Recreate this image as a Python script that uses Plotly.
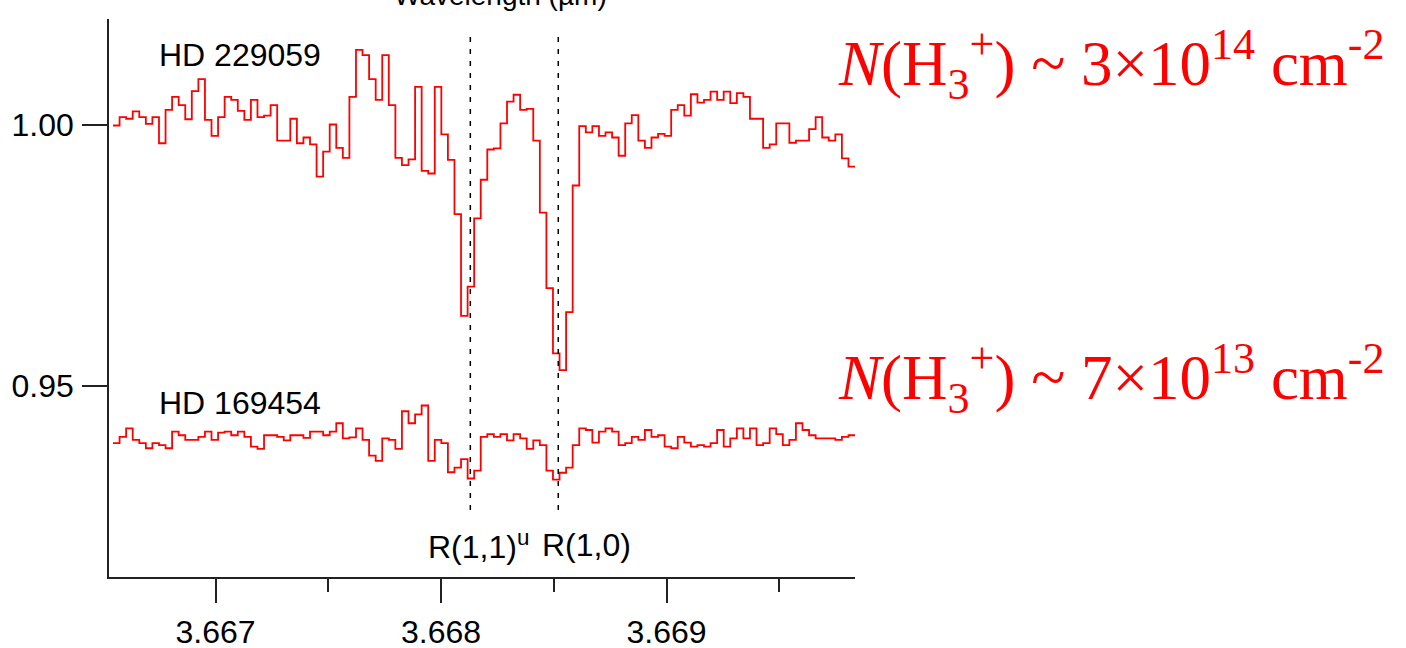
import plotly.graph_objects as go

# ---------------- data ----------------
wl_start = 3.6665455      # left edge of first pixel (micron)
wl_step = 0.00002912      # pixel width (micron)

hd229059 = [
    0.9999, 1.0015, 1.0012, 1.0026, 1.0015, 1.0002, 1.0015, 0.9965, 1.0029, 1.0054,
    1.0038, 1.0011, 1.0065, 1.0088, 1.0010, 0.9979, 1.0015, 1.0054, 1.0048, 1.0027,
    1.0010, 1.0048, 1.0015, 1.0018, 1.0038, 0.9970, 0.9970, 1.0012, 0.9965, 0.9976,
    0.9963, 0.9901, 0.9949, 1.0001, 0.9956, 0.9937, 1.0054, 1.0144, 1.0134, 1.0088,
    1.0048, 1.0134, 1.0038, 0.9937, 0.9923, 0.9934, 1.0073, 0.9912, 0.9907, 1.0073,
    0.9982, 0.9933, 0.9829, 0.9634, 0.9690, 0.9821, 0.9895, 0.9953, 0.9955, 1.0003,
    1.0045, 1.0058, 1.0029, 1.0031, 0.9970, 0.9832, 0.9687, 0.9562, 0.9530, 0.9641,
    0.9884, 0.9998, 0.9986, 0.9998, 0.9979, 0.9986, 0.9976, 0.9941, 1.0003, 1.0019,
    0.9970, 0.9956, 0.9976, 0.9983, 0.9979, 1.0029, 1.0038, 1.0018, 1.0059, 1.0043,
    1.0048, 1.0064, 1.0048, 1.0064, 1.0042, 1.0061, 1.0054, 1.0012, 1.0012, 0.9956,
    0.9963, 1.0003, 1.0003, 0.9966, 0.9970, 0.9970, 0.9992, 1.0015, 0.9976, 0.9970,
    0.9982, 0.9936, 0.9920,
]

hd169454 = [
    0.9390, 0.9402, 0.9418, 0.9396, 0.9390, 0.9380, 0.9390, 0.9386, 0.9380, 0.9412,
    0.9405, 0.9396, 0.9396, 0.9402, 0.9412, 0.9396, 0.9410, 0.9412, 0.9405, 0.9412,
    0.9402, 0.9383, 0.9379, 0.9405, 0.9405, 0.9402, 0.9395, 0.9405, 0.9405, 0.9400,
    0.9412, 0.9412, 0.9405, 0.9412, 0.9428, 0.9399, 0.9401, 0.9418, 0.9396, 0.9366,
    0.9356, 0.9399, 0.9396, 0.9379, 0.9451, 0.9428, 0.9445, 0.9462, 0.9356, 0.9396,
    0.9390, 0.9334, 0.9343, 0.9359, 0.9322, 0.9337, 0.9402, 0.9407, 0.9402, 0.9407,
    0.9395, 0.9407, 0.9399, 0.9379, 0.9395, 0.9386, 0.9337, 0.9320, 0.9333, 0.9343,
    0.9386, 0.9418, 0.9415, 0.9391, 0.9412, 0.9418, 0.9412, 0.9386, 0.9390, 0.9402,
    0.9396, 0.9415, 0.9402, 0.9405, 0.9383, 0.9380, 0.9402, 0.9391, 0.9383, 0.9386,
    0.9383, 0.9390, 0.9415, 0.9383, 0.9399, 0.9418, 0.9399, 0.9418, 0.9386, 0.9390,
    0.9418, 0.9407, 0.9386, 0.9396, 0.9428, 0.9415, 0.9405, 0.9399, 0.9399, 0.9399,
    0.9396, 0.9402, 0.9405,
]

line_positions = [3.66813, 3.66852]          # R(1,1)u, R(1,0)
x_tickvals = [3.667, 3.668, 3.669]
x_ticktext = ["3.667", "3.668", "3.669"]
y_tickvals = [0.95, 1.00]
y_ticktext = ["0.95", "1.00"]
star_labels = ["HD 229059", "HD 169454"]
col_dens = ["<i>N</i>(H<sub>3</sub><sup>+</sup>) ~ 3×10<sup>14</sup> cm<sup>-2</sup>",
            "<i>N</i>(H<sub>3</sub><sup>+</sup>) ~ 7×10<sup>13</sup> cm<sup>-2</sup>"]

# ---------------- figure ----------------
def edges(n):
    return [wl_start + i * wl_step for i in range(n + 1)]

fig = go.Figure()
for flux in (hd229059, hd169454):
    xs = edges(len(flux))
    ys = list(flux) + [flux[-1]]
    fig.add_trace(go.Scatter(x=xs, y=ys, mode="lines", line_shape="hv",
                             line=dict(color="#ff0000", width=1.8),
                             showlegend=False, hoverinfo="skip"))

for xl in line_positions:
    fig.add_shape(type="line", xref="x", yref="y", x0=xl, x1=xl, y0=0.92616, y1=1.01764,
                  line=dict(color="black", width=1.5, dash="5px,7px"))

FONT = "Liberation Sans, Arial, sans-serif"
SERIF = "Liberation Serif, Times New Roman, serif"

L, R, T, B = 109, 551, 19, 71
PW, PH = 1406 - L - R, 648 - T - B

def px(xp):
    return (xp - L) / PW

def py(yp):
    return (648 - B - yp) / PH

ann = []
ann.append(dict(text=star_labels[0], x=px(157), y=py(55.5), xanchor="left", yanchor="middle"))
ann.append(dict(text=star_labels[1], x=px(157), y=py(403), xanchor="left", yanchor="middle"))
ann.append(dict(text="R(1,1)<sup>u</sup>", x=px(426), y=py(545), xanchor="left", yanchor="middle"))
ann.append(dict(text="R(1,0)", x=px(540), y=py(545), xanchor="left", yanchor="middle"))
for a in ann:
    a.update(xref="paper", yref="paper", showarrow=False,
             font=dict(family=FONT, size=32, color="black"))
ann.append(dict(text="Wavelength (µm)", x=px(500), y=py(13), xref="paper", yref="paper",
                xanchor="center", yanchor="bottom", showarrow=False,
                font=dict(family=FONT, size=28, color="black")))
ann.append(dict(text=col_dens[0], x=px(836), y=py(64), xref="paper", yref="paper",
                xanchor="left", yanchor="middle", showarrow=False,
                font=dict(family=SERIF, size=63, color="#ff0000")))
ann.append(dict(text=col_dens[1], x=px(836), y=py(378), xref="paper", yref="paper",
                xanchor="left", yanchor="middle", showarrow=False,
                font=dict(family=SERIF, size=63, color="#ff0000")))

fig.update_layout(
    width=1406, height=648,
    margin=dict(l=L, r=R, t=T, b=B, pad=0, autoexpand=False),
    paper_bgcolor="white", plot_bgcolor="white",
    annotations=ann,
    xaxis=dict(range=[3.6665277, 3.6698359], showgrid=False, zeroline=False,
               automargin=False,
               showline=True, linecolor="#222", linewidth=1.5,
               ticks="outside", ticklen=24, tickwidth=1.5, tickcolor="#222",
               tickvals=x_tickvals, ticktext=x_ticktext,
               ticklabelstandoff=2,
               tickfont=dict(family=FONT, size=32, color="black"),
               minor=dict(dtick=0.0005, tick0=3.667, ticks="outside", ticklen=13,
                          tickwidth=1.5, tickcolor="#222", showgrid=False)),
    yaxis=dict(range=[0.91331, 1.02033], showgrid=False, zeroline=False,
               automargin=False,
               showline=True, linecolor="#222", linewidth=1.5,
               ticks="outside", ticklen=25, tickwidth=1.5, tickcolor="#222",
               tickvals=y_tickvals, ticktext=y_ticktext,
               ticklabelstandoff=2,
               tickfont=dict(family=FONT, size=32, color="black")),
)

fig.write_html("out.html", config={"displayModeBar": False},
               post_script="document.body.style.margin='0px';document.body.style.overflow='hidden';")
